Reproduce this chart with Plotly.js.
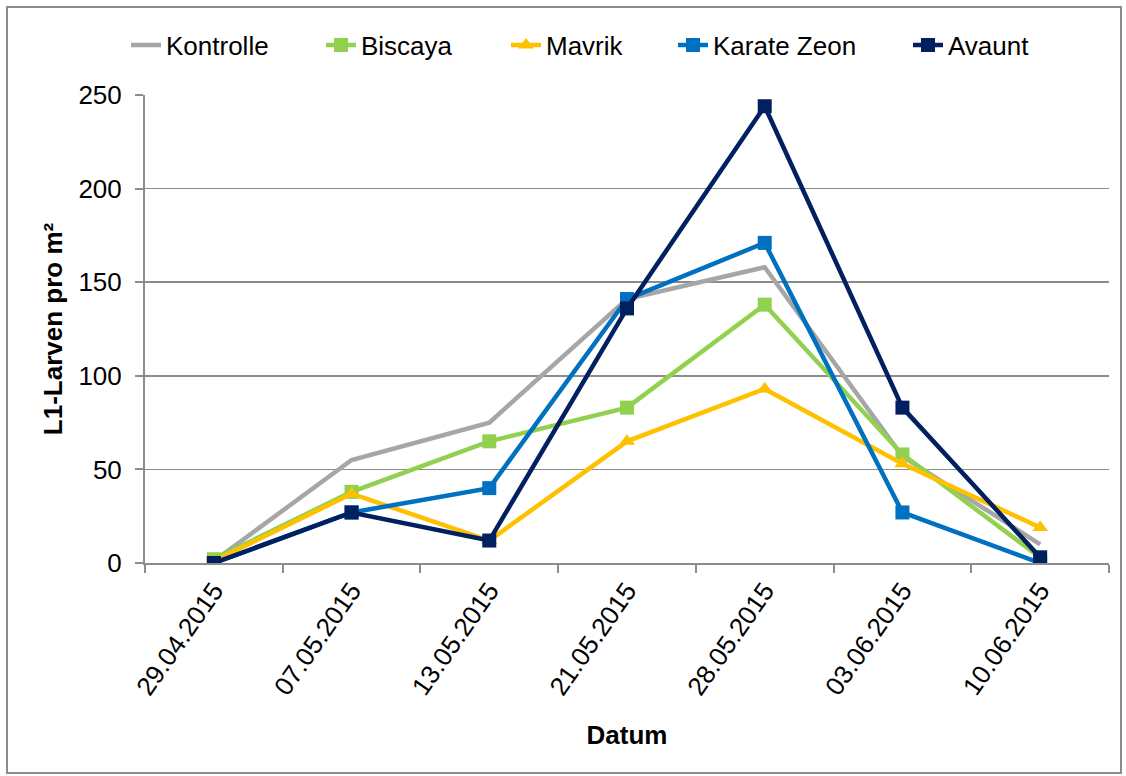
<!DOCTYPE html>
<html>
<head>
<meta charset="utf-8">
<script src="https://cdn.plot.ly/plotly-3.0.1.min.js"></script>
<style>
html,body{margin:0;padding:0;background:#fff;}
#chart{width:1126px;height:776px;}
</style>
</head>
<body>
<div id="chart"></div>
<script>
const dates = ["29.04.2015","07.05.2015","13.05.2015","21.05.2015","28.05.2015","03.06.2015","10.06.2015"];
const kontrolle = [1, 55, 75, 141, 158, 57, 10];
const biscaya = [2, 38, 65, 83, 138, 58, 3];
const mavrik = [1, 37, 12, 65, 93, 53, 19];
const karateZeon = [0, 27, 40, 141, 171, 27, 0];
const avaunt = [0, 27, 12, 136, 244, 83, 3];

const seriesNames = ["Kontrolle","Biscaya","Mavrik","Karate Zeon","Avaunt"];
const seriesData = [kontrolle, biscaya, mavrik, karateZeon, avaunt];
const colors = ["#A6A6A6","#92D050","#FFC000","#0070C0","#002060"];
const symbols = [null,"square","triangle-up","square","square"];
const legendIds = ["legend","legend2","legend3","legend4","legend5"];
const legendTextX = [168, 363, 548, 715, 950];

const traces = seriesNames.map((n,i)=>{
  const t = {
    x: dates, y: seriesData[i], name: n, type: "scatter",
    mode: symbols[i] ? "lines+markers" : "lines",
    line: {color: colors[i], width: 4.5},
    legend: legendIds[i]
  };
  if (symbols[i]) t.marker = {symbol: symbols[i], size: 14, color: colors[i]};
  return t;
});

const font = "Liberation Sans, Arial, sans-serif";
const fs = 26;
const layout = {
  width: 1126, height: 776,
  margin: {l: 145, r: 17, t: 95, b: 213},
  paper_bgcolor: "#fff", plot_bgcolor: "#fff",
  font: {family: font, color: "#000", size: fs},
  showlegend: true,
  xaxis: {
    type: "category", tickangle: -55, range: [-0.5, 6.5], autorange: false,
    showline: true, linecolor: "#8C8C8C", linewidth: 2,
    ticks: "outside", tickson: "boundaries", ticklen: 8, tickcolor: "#8C8C8C", tickwidth: 2,
    showgrid: false,
    tickfont: {size: fs, family: font},
    title: {text: "<b>Datum</b>", font: {size: fs, family: font}, standoff: 26}
  },
  yaxis: {
    range: [0, 250], dtick: 50, tick0: 0, autorange: false,
    showline: true, linecolor: "#8C8C8C", linewidth: 2,
    ticks: "outside", ticklen: 8, tickcolor: "#8C8C8C", tickwidth: 2,
    ticklabelstandoff: 8,
    showgrid: true, gridcolor: "#8C8C8C", gridwidth: 1.5,
    zeroline: false,
    tickfont: {size: fs, family: font},
    title: {text: "<b>L1-Larven pro m²</b>", font: {size: fs, family: font}, standoff: 8}
  },
  shapes: [{
    type: "rect", xref: "paper", yref: "paper",
    x0: (7-145)/964, x1: (1121-145)/964,
    y0: (563-773)/468, y1: (563-7)/468,
    line: {color: "#8C8C8C", width: 2}, layer: "below"
  }]
};
legendIds.forEach((id,i)=>{
  layout[id] = {
    orientation: "h", xref: "container", yref: "container",
    x: (legendTextX[i]-42)/1126, xanchor: "left",
    y: 1 - 45/776, yanchor: "middle",
    font: {size: fs, family: font}, itemwidth: 30,
    bgcolor: "rgba(0,0,0,0)"
  };
});

Plotly.newPlot("chart", traces, layout, {displayModeBar: false, staticPlot: true});
</script>
</body>
</html>
